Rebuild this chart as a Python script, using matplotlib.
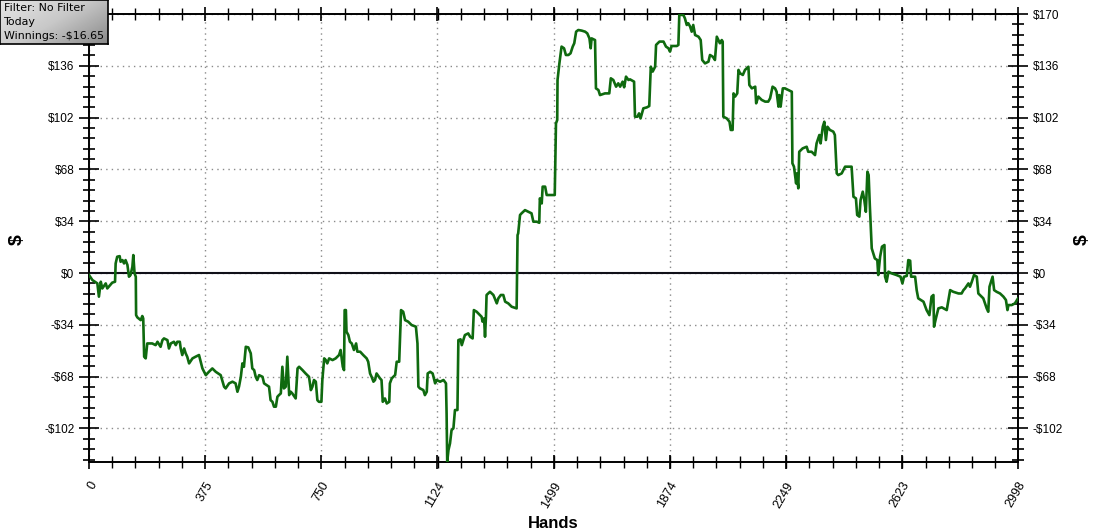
import matplotlib
matplotlib.use("Agg")
import matplotlib.pyplot as plt
import matplotlib.transforms as mtransforms
import numpy as np
from matplotlib.colors import LinearSegmentedColormap
from matplotlib.ticker import AutoMinorLocator, FixedLocator

# cumulative winnings ($) against hand number
hands = [0, 11, 27, 32, 38, 43, 54, 59, 75, 84, 86, 91, 99, 102, 108, 113, 118, 124, 129, 134,
         140, 143, 147, 151, 152, 156, 167, 172, 175, 178, 183, 188, 204, 215, 221, 231, 237, 242,
         253, 258, 264, 274, 280, 285, 293, 296, 301, 307, 312, 317, 323, 334, 344, 355, 366, 377,
         387, 398, 409, 425, 436, 441, 452, 463, 473, 479, 484, 490, 495, 500, 506, 514, 522, 527,
         533, 538, 543, 549, 560, 565, 581, 586, 592, 597, 603, 608, 613, 619, 624, 629, 635, 640,
         646, 651, 656, 667, 673, 678, 689, 699, 710, 716, 721, 726, 732, 737, 742, 750, 753, 759,
         764, 769, 775, 786, 796, 807, 812, 819, 823, 825, 829, 831, 837, 842, 848, 855, 862, 866,
         875, 885, 896, 901, 907, 912, 918, 923, 928, 939, 944, 948, 955, 961, 969, 971, 977, 988,
         993, 1001, 1007, 1014, 1020, 1030, 1041, 1055, 1060, 1063, 1068, 1079, 1084, 1090, 1093,
         1101, 1109, 1117, 1122, 1133, 1144, 1152, 1154, 1156, 1160, 1165, 1170, 1176, 1181, 1189,
         1192, 1199, 1203, 1213, 1224, 1230, 1238, 1242, 1251, 1267, 1270, 1275, 1278, 1281, 1283,
         1294, 1305, 1316, 1321, 1329, 1337, 1343, 1353, 1364, 1380, 1383, 1385, 1391, 1396, 1407,
         1418, 1428, 1434, 1445, 1453, 1455, 1461, 1464, 1472, 1477, 1488, 1503, 1507, 1511, 1512,
         1518, 1525, 1533, 1539, 1547, 1554, 1561, 1566, 1572, 1579, 1590, 1601, 1608, 1615, 1619,
         1622, 1633, 1636, 1644, 1649, 1665, 1679, 1684, 1692, 1701, 1708, 1714, 1722, 1727, 1733,
         1741, 1746, 1759, 1762, 1770, 1775, 1780, 1789, 1800, 1808, 1813, 1819, 1827, 1830, 1841,
         1854, 1862, 1870, 1875, 1880, 1897, 1902, 1905, 1918, 1923, 1929, 1934, 1940, 1945, 1950,
         1956, 1967, 1974, 1979, 1988, 1999, 2004, 2013, 2020, 2026, 2031, 2036, 2042, 2045, 2047,
         2058, 2067, 2071, 2077, 2080, 2085, 2092, 2096, 2101, 2110, 2117, 2128, 2131, 2139, 2150,
         2153, 2160, 2171, 2182, 2192, 2198, 2206, 2214, 2219, 2225, 2228, 2232, 2239, 2246, 2257,
         2268, 2270, 2275, 2282, 2284, 2289, 2292, 2303, 2316, 2321, 2332, 2343, 2348, 2357, 2361,
         2368, 2373, 2378, 2383, 2391, 2402, 2407, 2413, 2418, 2429, 2440, 2461, 2467, 2475, 2479,
         2486, 2490, 2497, 2502, 2507, 2512, 2516, 2520, 2526, 2536, 2544, 2547, 2553, 2559, 2567,
         2569, 2574, 2580, 2590, 2606, 2619, 2625, 2630, 2639, 2644, 2650, 2653, 2666, 2671, 2676,
         2693, 2703, 2712, 2719, 2725, 2727, 2733, 2741, 2752, 2768, 2779, 2789, 2806, 2816, 2822,
         2827, 2838, 2843, 2849, 2856, 2865, 2870, 2886, 2897, 2902, 2906, 2916, 2921, 2929, 2940,
         2951, 2959, 2964, 2967, 2978, 2988, 2998]
winnings = [-1.3, -4.6, -6.8, -15.5, -5.7, -10.1, -6.8, -10.1, -6.3, -5.7, 6.3, 10.7, 11.1, 7.4,
            8.5, 6.3, 8.5, 5.3, -2.4, -1.3, 4.1, 11.8, -0.2, -2.4, -27.6, -29.1, -30.9, -28.2,
            -29.8, -54.9, -56.0, -46.2, -46.2, -47.3, -45.1, -48.4, -44.0, -42.9, -44.0, -49.5,
            -46.2, -45.1, -47.3, -45.1, -45.1, -49.5, -53.8, -49.5, -52.7, -54.9, -59.3, -56.0,
            -54.9, -53.8, -62.6, -67.0, -64.8, -62.6, -64.8, -67.0, -74.6, -75.7, -72.4, -71.3,
            -72.4, -77.9, -74.6, -68.1, -59.3, -61.5, -48.4, -48.8, -52.7, -62.6, -63.7, -68.1,
            -70.2, -67.0, -68.1, -72.4, -74.6, -83.4, -84.5, -87.7, -87.7, -81.2, -80.1, -79.0,
            -61.5, -75.7, -74.6, -54.9, -80.1, -77.9, -79.0, -82.3, -62.6, -61.5, -63.7, -65.9,
            -68.1, -76.8, -74.6, -70.2, -71.3, -83.4, -84.5, -84.5, -70.2, -56.0, -57.1, -59.3,
            -56.0, -57.1, -56.0, -53.8, -50.5, -61.5, -63.7, -24.3, -24.3, -38.5, -40.7, -45.1,
            -46.2, -50.5, -46.2, -51.6, -51.6, -53.8, -56.0, -58.2, -65.9, -68.1, -71.3, -70.2,
            -65.9, -69.1, -70.2, -84.5, -82.3, -85.6, -84.5, -72.4, -69.1, -66.9, -58.2, -58.2,
            -24.3, -25.4, -30.9, -31.9, -34.1, -35.2, -46.2, -74.6, -75.7, -76.8, -80.1, -77.9,
            -65.9, -64.8, -65.9, -72.4, -70.2, -71.3, -70.2, -72.4, -92.1, -123.8, -116.2, -111.8,
            -103.1, -101.9, -89.9, -89.9, -44.0, -43.5, -47.3, -40.7, -39.6, -41.8, -42.9, -24.3,
            -25.4, -28.7, -31.9, -29.8, -41.8, -28.7, -14.4, -12.3, -14.4, -19.9, -16.6, -14.4,
            -14.4, -18.8, -19.9, -22.1, -23.2, 24.9, 26.0, 38.1, 39.2, 41.3, 40.2, 39.2, 33.7,
            33.7, 33.0, 49.0, 45.7, 56.7, 56.7, 51.2, 51.2, 51.2, 98.2, 100.4, 126.7, 137.6, 148.6,
            147.5, 143.1, 143.1, 144.2, 148.6, 150.8, 158.4, 159.5, 159.1, 158.4, 157.3, 154.0,
            147.5, 154.0, 152.9, 121.2, 120.1, 116.8, 117.9, 117.9, 127.8, 126.7, 122.3, 124.5,
            122.3, 125.6, 121.9, 128.9, 126.7, 127.1, 125.6, 102.6, 102.6, 104.8, 101.5, 108.1,
            108.7, 109.6, 135.4, 132.2, 135.4, 149.7, 151.9, 151.9, 148.6, 147.5, 145.3, 149.0,
            149.0, 149.7, 169.4, 169.4, 167.2, 162.8, 163.9, 161.7, 158.4, 162.8, 156.2, 155.1,
            152.9, 139.8, 137.6, 138.7, 143.1, 142.0, 139.8, 155.1, 152.9, 150.8, 152.9, 151.9,
            102.6, 101.5, 99.3, 93.9, 93.9, 117.9, 115.8, 117.9, 133.3, 131.1, 130.0, 133.3, 135.4,
            123.4, 121.2, 122.3, 111.4, 115.8, 113.6, 112.5, 112.5, 114.7, 122.3, 121.2, 119.0,
            109.2, 116.8, 109.2, 121.2, 121.2, 120.1, 119.0, 72.0, 69.8, 58.8, 65.4, 55.6, 79.6,
            81.8, 82.9, 79.6, 79.6, 77.4, 85.1, 90.6, 85.1, 96.0, 99.3, 87.3, 96.0, 93.9, 92.8,
            90.6, 65.4, 64.3, 65.4, 69.8, 69.8, 50.1, 49.0, 38.1, 37.0, 47.9, 53.4, 47.9, 40.2,
            66.5, 64.3, 43.5, 16.2, 9.6, 8.5, -1.3, 10.7, 17.3, 18.4, -2.4, -5.7, 0.9, -0.2, -1.3,
            -2.4, -6.8, -2.4, -1.9, 8.5, 8.1, -2.4, -2.4, -11.2, -16.6, -18.8, -24.3, -27.6, -15.5,
            -14.4, -35.2, -29.8, -23.2, -22.5, -24.3, -11.2, -12.3, -13.4, -13.4, -11.2, -10.1,
            -6.8, -9.0, -5.7, -1.3, -2.4, -13.4, -16.6, -23.2, -25.4, -9.0, -2.4, -11.2, -12.3,
            -13.4, -15.5, -17.7, -24.3, -21.0, -21.0, -19.9, -16.65]

x_ticks = [0, 375, 750, 1124, 1499, 1874, 2249, 2623, 2998]
y_ticks = [-102, -68, -34, 0, 34, 68, 102, 136, 170]
info_lines = ["Filter: No Filter", "Today", "Winnings: -$16.65"]


def money(v):
    return f"${v}" if v >= 0 else f"-${-v}"


W, H = 1099, 532
fig = plt.figure(figsize=(W / 100, H / 100), dpi=100)
ax = fig.add_axes([89 / W, 1 - 462 / H, (1018 - 89) / W, (462 - 14) / H])

ax.plot(hands, winnings, color="#0f6a0f", lw=1.9, zorder=3)
ax.axhline(0, color="#101018", lw=1.5, zorder=2)

ax.set_xlim(0, 2998)
ax.set_ylim(-124, 170)
ax.xaxis.set_major_locator(FixedLocator(x_ticks))
ax.xaxis.set_minor_locator(AutoMinorLocator(5))
ax.yaxis.set_major_locator(FixedLocator(y_ticks))
ax.yaxis.set_minor_locator(AutoMinorLocator(5))
ax.set_xticklabels([str(t) for t in x_ticks], rotation=60, ha="right", va="center",
                   rotation_mode="anchor", family="Liberation Sans", fontsize=9)
ax.set_yticklabels([money(t) for t in y_ticks], family="Liberation Sans", fontsize=8.5)

ax.tick_params(axis="both", which="both", direction="inout", colors="black",
               top=True, right=True, labelright=True)
ax.tick_params(axis="y", which="major", length=15, width=1.2, pad=3)
ax.tick_params(axis="y", which="minor", length=8, width=1.2)
ax.tick_params(axis="x", which="major", length=10, width=1.2, pad=10)
ax.tick_params(axis="x", which="minor", length=8, width=1.0)
for s in ax.spines.values():
    s.set_linewidth(1.4)
    s.set_color("black")

# nudge rotated hand labels a little to the right, like the original
shift = mtransforms.ScaledTranslation(5 / 100, 0, fig.dpi_scale_trans)
for lab in ax.get_xticklabels():
    lab.set_transform(lab.get_transform() + shift)

# the top-left $170 sits under the info box in the original
ax.yaxis.get_major_ticks()[-1].label1.set_visible(False)

ax.grid(True, which="major", color="#8a8a8a", linestyle=(0, (1, 3)), linewidth=1)

fig.text(0.5 * (89 + 1018) / W, 1 - 523 / H, "Hands", ha="center", va="center",
         fontsize=12, fontweight="bold", family="Liberation Sans")
for xp in (17, 1082):
    fig.text(xp / W, 1 - 240 / H, "$", ha="center", va="center", rotation=90,
             fontsize=14, fontweight="bold", family="Liberation Sans")

# info box with grey gradient in the top-left corner
box = fig.add_axes([0, 1 - 44 / H, 108 / W, 44 / H])
gx, gy = np.meshgrid(np.linspace(0, 1, 108), np.linspace(0, 1, 44))
grad = 0.6 * gx + 0.4 * gy
grey_cmap = LinearSegmentedColormap.from_list("box", ["#e6e6e6", "#c8c8c8", "#8a8a8a"])
box.imshow(grad, cmap=grey_cmap, vmin=0, vmax=1, aspect="auto", extent=(0, 1, 1, 0))
box.set_xlim(0, 1)
box.set_ylim(1, 0)
box.set_xticks([])
box.set_yticks([])
for s in box.spines.values():
    s.set_color("black")
    s.set_linewidth(1.2)
for i, line in enumerate(info_lines):
    box.text(0.04, (8 + 14 * i) / 44, line, ha="left", va="center", fontsize=7.9,
             family="DejaVu Sans", color="black")

fig.savefig("out.png", dpi=100)
